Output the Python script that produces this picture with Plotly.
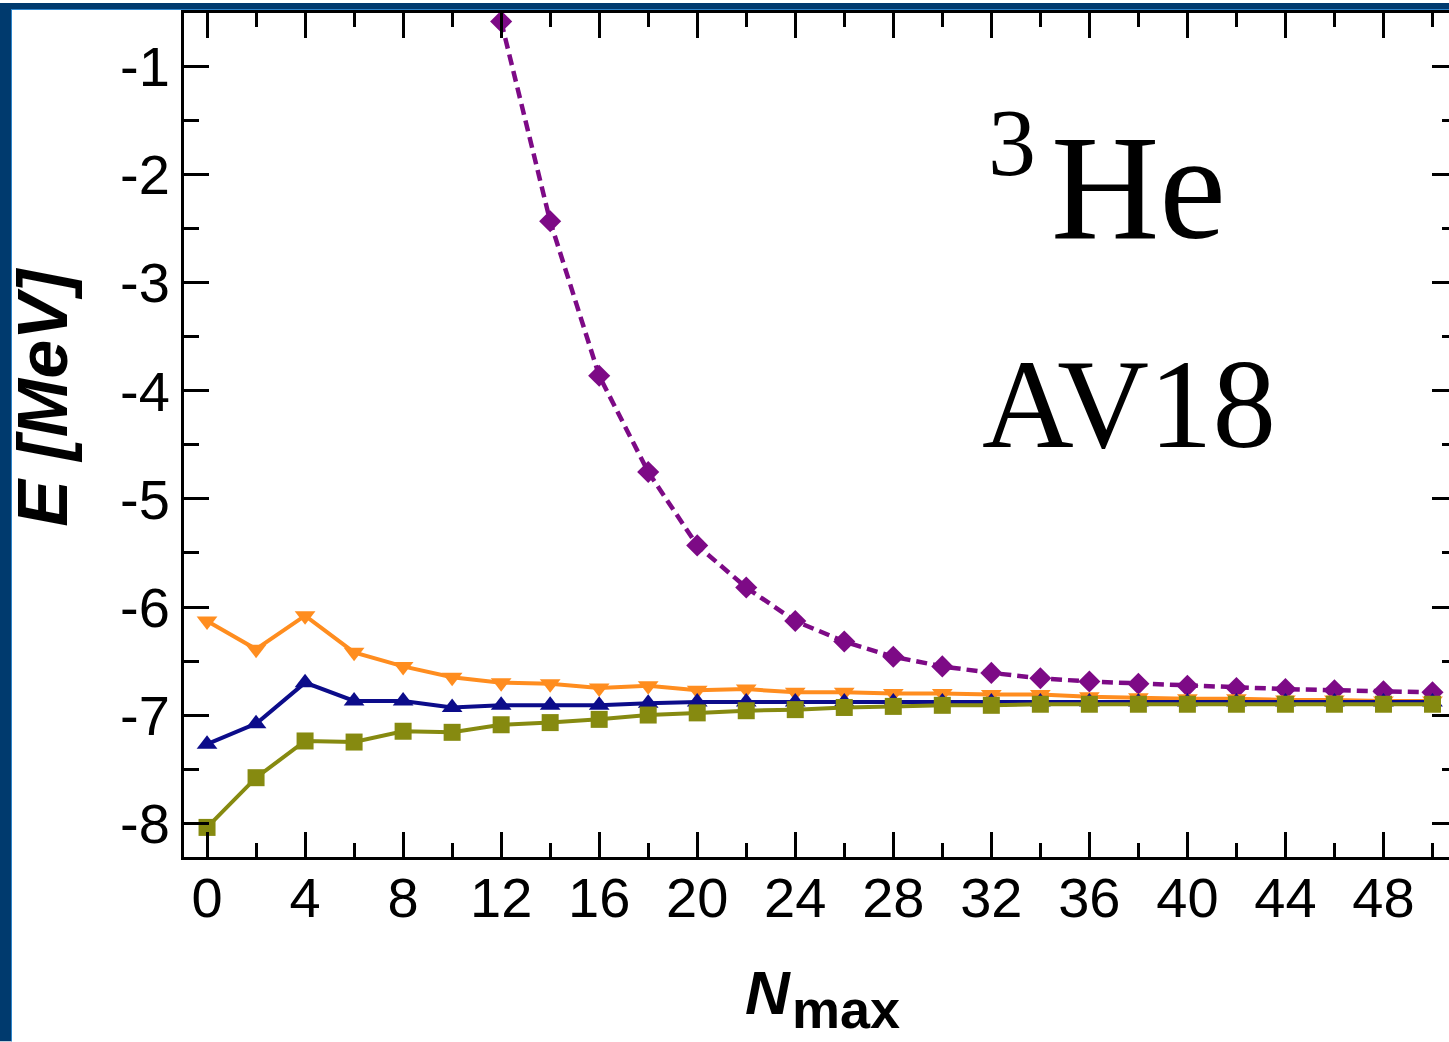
import plotly.graph_objects as go

# ---- data: ground-state energy of 3He (AV18) vs. model-space size Nmax ----
nmax = [0, 2, 4, 6, 8, 10, 12, 14, 16, 18, 20, 22, 24, 26, 28, 30, 32, 34, 36, 38, 40, 42, 44, 46, 48, 50]

e_orange = [-6.13, -6.39, -6.08, -6.42, -6.55, -6.65, -6.70, -6.71, -6.75, -6.73, -6.77, -6.76, -6.79,
            -6.79, -6.80, -6.80, -6.81, -6.81, -6.83, -6.84, -6.85, -6.85, -6.86, -6.86, -6.87, -6.87]
e_blue = [-7.27, -7.08, -6.70, -6.87, -6.87, -6.93, -6.91, -6.91, -6.91, -6.89, -6.88, -6.88, -6.88,
          -6.88, -6.88, -6.88, -6.88, -6.88, -6.88, -6.88, -6.88, -6.88, -6.88, -6.88, -6.88, -6.88]
e_olive = [-8.04, -7.58, -7.24, -7.25, -7.15, -7.16, -7.09, -7.07, -7.04, -7.00, -6.98, -6.96, -6.95,
           -6.93, -6.92, -6.91, -6.91, -6.90, -6.90, -6.90, -6.90, -6.90, -6.90, -6.90, -6.90, -6.90]

nmax_purple = [12, 14, 16, 18, 20, 22, 24, 26, 28, 30, 32, 34, 36, 38, 40, 42, 44, 46, 48, 50]
e_purple = [-0.58, -2.43, -3.86, -4.75, -5.43, -5.82, -6.13, -6.32, -6.46, -6.55, -6.61, -6.66,
            -6.69, -6.71, -6.73, -6.75, -6.76, -6.77, -6.78, -6.79]

x_tick_vals = [0, 4, 8, 12, 16, 20, 24, 28, 32, 36, 40, 44, 48]
x_tick_text = ["0", "4", "8", "12", "16", "20", "24", "28", "32", "36", "40", "44", "48"]
y_tick_vals = [-8, -7, -6, -5, -4, -3, -2, -1]
y_tick_text = ["-8", "-7", "-6", "-5", "-4", "-3", "-2", "-1"]

# ---- page geometry (pixels) ----
W, H = 1470, 1042
L, R, T, B = 184, 1457, 10, 857          # plot-area edges
PW, PH = R - L, B - T


def px(xp):
    return (xp - L) / PW


def py(yp):
    return (B - yp) / PH


NAVY = "#003a6e"
EDGE = "#2f86cc"

fig = go.Figure()

fig.add_trace(go.Scatter(
    x=nmax_purple, y=e_purple, mode="lines+markers",
    line=dict(color="#7d0a86", width=4.5, dash="11px,6px"),
    marker=dict(symbol="diamond", size=17, color="#7d0a86"),
    cliponaxis=False, showlegend=False))
fig.add_trace(go.Scatter(
    x=nmax, y=e_orange, mode="lines+markers",
    line=dict(color="#ff8d1f", width=4),
    marker=dict(symbol="triangle-down", size=18, color="#ff8d1f"),
    showlegend=False))
fig.add_trace(go.Scatter(
    x=nmax, y=e_blue, mode="lines+markers",
    line=dict(color="#0c0c8a", width=4),
    marker=dict(symbol="triangle-up", size=18, color="#0c0c8a"),
    showlegend=False))
fig.add_trace(go.Scatter(
    x=nmax, y=e_olive, mode="lines+markers",
    line=dict(color="#868a10", width=4),
    marker=dict(symbol="square", size=17, color="#868a10"),
    showlegend=False))

tick_font = dict(family="Liberation Sans, Arial, sans-serif", size=56, color="black")

fig.update_xaxes(
    range=[-0.94, 51.0], showgrid=False, zeroline=False,
    showline=True, linecolor="black", linewidth=3, mirror="allticks",
    tickmode="array", tickvals=x_tick_vals, ticktext=x_tick_text,
    ticks="inside", ticklen=25, tickwidth=3, tickcolor="black",
    minor=dict(tickmode="linear", tick0=0, dtick=2, ticks="inside", ticklen=14,
               tickwidth=3, tickcolor="black", showgrid=False),
    tickfont=tick_font, ticklabelstandoff=-10, layer="above traces")
fig.update_yaxes(
    range=[-8.314, -0.502], showgrid=False, zeroline=False,
    showline=True, linecolor="black", linewidth=3, mirror="allticks",
    tickmode="array", tickvals=y_tick_vals, ticktext=y_tick_text,
    ticks="inside", ticklen=25, tickwidth=3, tickcolor="black",
    minor=dict(tickmode="linear", tick0=0, dtick=0.5, ticks="inside", ticklen=15,
               tickwidth=3, tickcolor="black", showgrid=False),
    tickfont=tick_font, layer="above traces")

label_font = "Liberation Sans, Arial, sans-serif"
serif = "Liberation Serif, Times New Roman, serif"

annotations = [
    # axis titles
    dict(text="<b><i>E [MeV]</i></b>", textangle=-90, x=px(43), y=py(396),
         font=dict(family=label_font, size=70, color="black")),
    dict(text="<b><i>N</i></b>", x=px(768), y=py(993),
         font=dict(family=label_font, size=62, color="black")),
    dict(text="<b>max</b>", x=px(790), xanchor="left", y=py(1042), yanchor="bottom",
         font=dict(family=label_font, size=54, color="black")),
    # nucleus / interaction label
    dict(text="3", x=px(1012), y=py(172 - 0.3375 * 96),
         font=dict(family=serif, size=96, color="black")),
    dict(text="He", x=px(1138), y=py(235 - 0.3375 * 150),
         font=dict(family=serif, size=150, color="black")),
    dict(text="AV18", x=px(1129), y=py(445 - 0.3375 * 127),
         font=dict(family=serif, size=127, color="black")),
]
for a in annotations:
    a.update(xref="paper", yref="paper", showarrow=False)
    a.setdefault("xanchor", "center")
    a.setdefault("yanchor", "middle")

# dark frame around the page (left and top bands with a light inner edge)
shapes = [
    dict(x0=px(0), x1=px(12), y0=py(H), y1=py(0), fillcolor=NAVY),
    dict(x0=px(0), x1=px(W), y0=py(7), y1=py(0), fillcolor=NAVY),
    dict(x0=px(11), x1=px(12), y0=py(H), y1=py(6), fillcolor=EDGE),
    dict(x0=px(11), x1=px(W), y0=py(7), y1=py(6), fillcolor=EDGE),
]
for s in shapes:
    s.update(type="rect", xref="paper", yref="paper", line=dict(width=0), layer="above")

fig.update_layout(
    width=W, height=H,
    margin=dict(l=L, r=W - R, t=T, b=H - B, pad=0),
    paper_bgcolor="white", plot_bgcolor="white",
    annotations=annotations, shapes=shapes,
    showlegend=False,
)

fig.write_html(
    "out.html",
    config={"displayModeBar": False},
    post_script="document.documentElement.style.overflow='hidden';document.body.style.overflow='hidden';",
)
